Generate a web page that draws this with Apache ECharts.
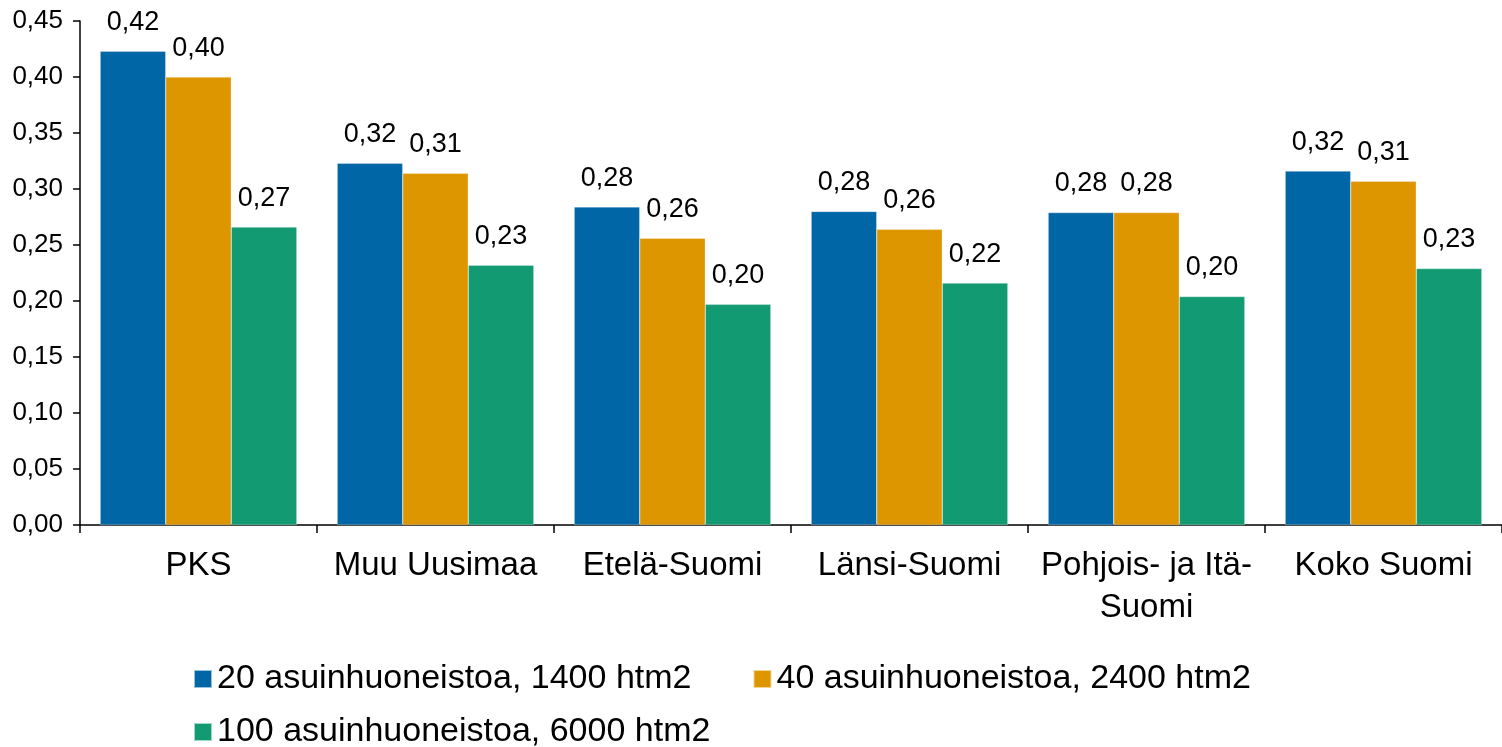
<!DOCTYPE html>
<html>
<head>
<meta charset="utf-8">
<script src="https://cdn.jsdelivr.net/npm/echarts@6/dist/echarts.min.js"></script>
<style>
html,body{margin:0;padding:0;background:#fff;}
#chart{width:1502px;height:747px;}
</style>
</head>
<body>
<div id="chart"></div>
<script>
const categories = ["PKS", "Muu Uusimaa", "Etelä-Suomi", "Länsi-Suomi", "Pohjois- ja Itä-Suomi", "Koko Suomi"];
const seriesNames = ["20 asuinhuoneistoa, 1400 htm2", "40 asuinhuoneistoa, 2400 htm2", "100 asuinhuoneistoa, 6000 htm2"];
const s20 = [0.423, 0.323, 0.284, 0.280, 0.279, 0.316];
const s40 = [0.400, 0.314, 0.256, 0.264, 0.279, 0.307];
const s100 = [0.266, 0.232, 0.197, 0.216, 0.204, 0.229];
const colors = ["#0066A6", "#DE9600", "#129B72"];

const FONT = "Liberation Sans, Arial, sans-serif";
const fmt = v => Number(v).toFixed(2).replace('.', ',');

function barSeries(name, data, color) {
  return {
    name: name,
    type: 'bar',
    data: data,
    barGap: '0%',
    barCategoryGap: '17%',
    itemStyle: { color: color, borderColor: 'rgba(255,255,255,0.6)', borderWidth: 0.5 },
    label: {
      show: true,
      position: 'top',
      distance: 15,
      color: '#000',
      fontFamily: FONT,
      fontSize: 27,
      formatter: p => fmt(p.value)
    }
  };
}

const chart = echarts.init(document.getElementById('chart'), null, { renderer: 'canvas' });
chart.setOption({
  animation: false,
  backgroundColor: '#fff',
  color: colors,
  grid: { left: 80, right: -7, top: 21, bottom: 222, containLabel: false },
  legend: [
    {
      data: [seriesNames[0], seriesNames[1]],
      left: 188, top: 657,
      orient: 'horizontal',
      itemWidth: 18, itemHeight: 18, itemGap: 61,
      icon: 'rect',
      textStyle: { fontFamily: FONT, fontSize: 34, color: '#000' }
    },
    {
      data: [seriesNames[2]],
      left: 188, top: 710,
      orient: 'horizontal',
      itemWidth: 18, itemHeight: 18,
      icon: 'rect',
      textStyle: { fontFamily: FONT, fontSize: 34, color: '#000' }
    }
  ],
  xAxis: {
    type: 'category',
    data: categories,
    axisLine: { lineStyle: { color: '#000', width: 1.5 } },
    axisTick: { show: true, length: 8, lineStyle: { color: '#000', width: 1.5 } },
    axisLabel: {
      color: '#000', fontFamily: FONT, fontSize: 33, lineHeight: 42, margin: 20,
      interval: 0,
      formatter: v => v.replace('Itä-Suomi', 'Itä-\nSuomi')
    }
  },
  yAxis: {
    type: 'value',
    min: 0, max: 0.45, interval: 0.05,
    axisLine: { show: true, lineStyle: { color: '#000', width: 1.5 } },
    axisTick: { show: true, length: 7, lineStyle: { color: '#000', width: 1.5 } },
    splitLine: { show: false },
    axisLabel: { color: '#000', fontFamily: FONT, fontSize: 26, margin: 17, formatter: v => fmt(v) }
  },
  series: [
    barSeries(seriesNames[0], s20, colors[0]),
    barSeries(seriesNames[1], s40, colors[1]),
    barSeries(seriesNames[2], s100, colors[2])
  ]
});
</script>
</body>
</html>
